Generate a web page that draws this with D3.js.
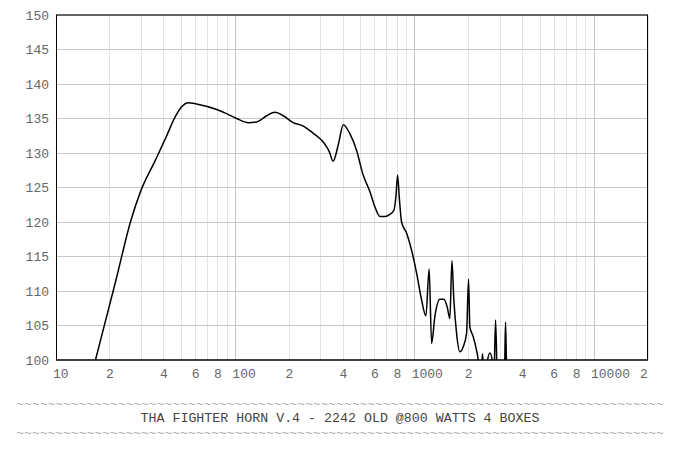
<!DOCTYPE html>
<html><head><meta charset="utf-8">
<script src="https://cdn.jsdelivr.net/npm/d3@7"></script>
<style>
html,body{margin:0;padding:0;background:#fff;}
svg{display:block;}
text{font-family:"Liberation Mono","Courier New",monospace;}
</style></head>
<body>
<svg id="chart" width="688" height="459"></svg>
<script>
const freqs = [10, 16.6, 21.6, 26.2, 29.6, 35.9, 41.1, 46.1, 50.2, 54.6, 60.8, 78.7, 89.4, 101.7, 118, 131.5, 149.5, 166.3, 185, 210, 239, 272, 296, 309, 323, 334, 351, 375, 400, 435, 474, 516, 563, 600, 640, 682, 727, 766, 786, 803, 820, 845, 901, 961, 1025, 1093, 1155, 1204, 1243, 1296, 1382, 1455, 1518, 1571, 1613, 1654, 1712, 1786, 1864, 1947, 1997, 2031, 2119, 2213, 2259, 2300, 2352, 2390, 2422, 2480, 2535, 2626, 2720, 2764, 2825, 2890, 3000, 3162, 3211, 3266, 3500, 20000];
const spl = [77, 100, 111.6, 120.3, 124.4, 129.0, 132.3, 135.2, 136.7, 137.3, 137.1, 136.3, 135.7, 135.0, 134.4, 134.5, 135.4, 135.9, 135.4, 134.4, 133.9, 132.85, 132.1, 131.6, 130.9, 130.2, 128.8, 131.2, 134.1, 132.8, 130.4, 126.8, 124.4, 122.2, 120.8, 120.8, 121.1, 121.7, 123.7, 126.8, 123.7, 120.0, 118.4, 115.9, 112.6, 108.7, 106.4, 113.2, 102.4, 106.3, 108.8, 108.8, 107.7, 106.0, 114.4, 108.7, 103.9, 101.2, 101.9, 103.9, 111.7, 104.8, 103.4, 101.4, 100, 97, 98, 100.9, 98, 96, 99.5, 101, 99.5, 97, 105.8, 97, 95, 97, 105.5, 97, 92, 80];

const yTicks = [100, 105, 110, 115, 120, 125, 130, 135, 140, 145, 150];
const xTickValues = [10, 20, 40, 60, 80, 100, 200, 400, 600, 800, 1000, 2000, 4000, 6000, 8000, 10000, 20000];
const xTickLabels = ["10", "2", "4", "6", "8", "100", "2", "4", "6", "8", "1000", "2", "4", "6", "8", "10000", "2"];
const title = "THA FIGHTER HORN V.4 - 2242 OLD @800 WATTS 4 BOXES";

const svg = d3.select("#chart");
const L = 56, R = 648, T = 15, B = 360;
const x = d3.scaleLog().domain([10, 20000]).range([L, R]);
const y = d3.scaleLinear().domain([100, 150]).range([B, T]);

// minor grid
const minor = [];
[10, 100, 1000, 10000].forEach(d => { for (let k = 2; k <= 9; k++) if (d * k <= 20000) minor.push(d * k); });
svg.append("g").selectAll("line").data(minor).join("line")
  .attr("x1", d => x(d)).attr("x2", d => x(d)).attr("y1", T).attr("y2", B)
  .attr("stroke", "#e4e4e4").attr("stroke-width", 1).attr("shape-rendering", "crispEdges");
svg.append("g").selectAll("line").data([100, 1000, 10000]).join("line")
  .attr("x1", d => x(d)).attr("x2", d => x(d)).attr("y1", T).attr("y2", B)
  .attr("stroke", "#c4c4c4").attr("stroke-width", 1).attr("shape-rendering", "crispEdges");
svg.append("g").selectAll("line").data(yTicks.slice(1, -1)).join("line")
  .attr("x1", L).attr("x2", R).attr("y1", d => y(d)).attr("y2", d => y(d))
  .attr("stroke", "#c8c8c8").attr("stroke-width", 1).attr("shape-rendering", "crispEdges");

// curve
svg.append("clipPath").attr("id", "clip").append("rect")
  .attr("x", L).attr("y", T).attr("width", R - L).attr("height", B - T);
const pts = freqs.map((f, i) => [f, spl[i]]);
svg.append("path").datum(pts)
  .attr("clip-path", "url(#clip)")
  .attr("fill", "none").attr("stroke", "#000").attr("stroke-width", 1.5)
  .attr("stroke-linejoin", "round")
  .attr("d", d3.line().x(d => x(d[0])).y(d => y(d[1])).curve(d3.curveMonotoneX));

// frame
svg.append("line").attr("x1", L).attr("x2", R).attr("y1", T).attr("y2", T)
  .attr("stroke", "#666").attr("stroke-width", 2);
svg.append("line").attr("x1", L + 0.5).attr("x2", L + 0.5).attr("y1", T).attr("y2", B)
  .attr("stroke", "#000").attr("stroke-width", 1);
svg.append("line").attr("x1", R - 0.5).attr("x2", R - 0.5).attr("y1", T).attr("y2", B)
  .attr("stroke", "#000").attr("stroke-width", 1);
svg.append("line").attr("x1", L).attr("x2", R).attr("y1", B).attr("y2", B)
  .attr("stroke", "#000").attr("stroke-width", 1.5);

// y labels
svg.append("g").selectAll("text").data(yTicks).join("text")
  .attr("x", L - 7).attr("y", d => y(d)).attr("dy", "0.35em")
  .attr("text-anchor", "end").attr("font-size", 13).attr("fill", "#666")
  .text(d => d);

// x labels
svg.append("g").selectAll("text").data(xTickValues).join("text")
  .attr("x", (d, i) => xTickLabels[i].length > 1 ? x(d) - 3 : (i === xTickValues.length - 1 ? x(d) - 4 : x(d)))
  .attr("y", 373).attr("dy", "0.35em")
  .attr("text-anchor", (d, i) => xTickLabels[i].length > 1 ? "start" : "middle")
  .attr("font-size", 13).attr("fill", "#666")
  .text((d, i) => xTickLabels[i]);

// title block
const tildes = "~".repeat(83);
svg.append("text").attr("x", 340).attr("y", 403).attr("dy", "0.35em").attr("text-anchor", "middle")
  .attr("font-size", 13).attr("fill", "#aaa").text(tildes);
svg.append("text").attr("x", 340).attr("y", 417).attr("dy", "0.35em").attr("text-anchor", "middle")
  .attr("font-size", 13.3).attr("fill", "#444").text(title);
svg.append("text").attr("x", 340).attr("y", 432).attr("dy", "0.35em").attr("text-anchor", "middle")
  .attr("font-size", 13).attr("fill", "#aaa").text(tildes);
</script>
</body></html>
